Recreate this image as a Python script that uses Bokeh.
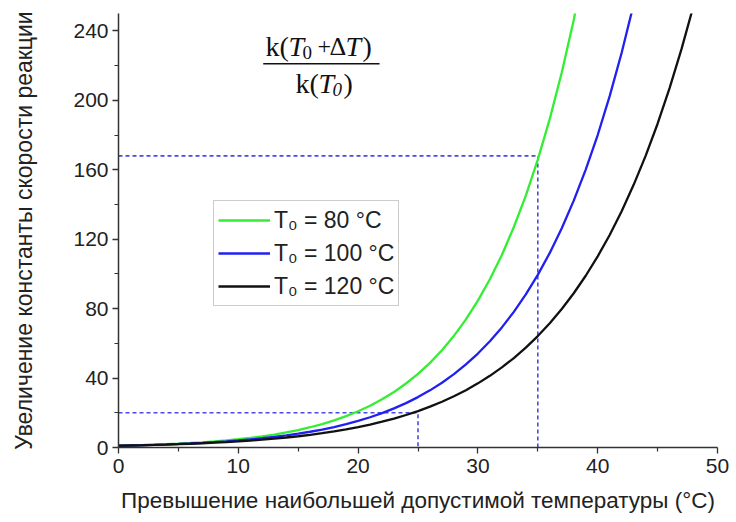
from bokeh.plotting import figure
from bokeh.models import Range1d, Legend, LegendItem, Label, FixedTicker
from bokeh.embed import file_html
from bokeh.resources import INLINE

# Excess over the maximum permissible temperature, deg C (T0 = 80 C)
dt_green = list(range(0, 40))
k_green = [1.0, 1.17, 1.38, 1.61, 1.89, 2.21, 2.58, 3.01, 3.51, 4.09, 4.76, 5.54,
           6.44, 7.48, 8.68, 10.07, 11.67, 13.51, 15.63, 18.06, 20.86, 24.08, 27.77,
           32.0, 36.86, 42.39, 48.77, 56.02, 64.32, 73.79, 84.6, 96.94, 110.9, 127.0,
           145.1, 165.8, 189.3, 216.0, 246.3, 280.6]

# T0 = 100 C
dt_blue = list(range(0, 44))
k_blue = [1.0, 1.15, 1.33, 1.53, 1.77, 2.03, 2.34, 2.69, 3.08, 3.54, 4.06, 4.65,
          5.32, 6.09, 6.96, 7.95, 9.07, 10.35, 11.8, 13.45, 15.31, 17.42, 19.81,
          22.52, 25.57, 29.03, 32.92, 37.32, 42.27, 47.85, 54.13, 61.2, 69.17, 78.11,
          88.17, 99.46, 112.1, 126.3, 142.2, 160.1, 180.0, 202.4, 227.4, 255.3]

# T0 = 120 C
dt_black = list(range(0, 50))
k_black = [1.0, 1.14, 1.29, 1.47, 1.67, 1.9, 2.15, 2.44, 2.76, 3.13, 3.54, 4.0,
           4.52, 5.1, 5.76, 6.49, 7.32, 8.25, 9.29, 10.45, 11.76, 13.22, 14.85, 16.67,
           18.71, 20.99, 23.52, 26.36, 29.51, 33.03, 36.94, 41.29, 46.15, 51.53, 57.52,
           64.18, 71.55, 79.77, 88.86, 98.93, 110.1, 122.4, 136.1, 151.3, 168.0, 186.5,
           207.0, 229.6, 254.5, 282.1]

series_labels = ["T\u2080 = 80 \u00b0C", "T\u2080 = 100 \u00b0C", "T\u2080 = 120 \u00b0C"]

# guide lines (dashed)
guide1_x = [0, 25, 25]
guide1_y = [20, 20, 0]
guide2_x = [0, 35, 35]
guide2_y = [168, 168, 0]

x_ticks = [0, 10, 20, 30, 40, 50]
y_ticks = [0, 40, 80, 120, 160, 200, 240]

FONT = "Liberation Sans"
SERIF = "Liberation Serif"

p = figure(width=730, height=520, output_backend="svg", toolbar_location=None,
           x_range=Range1d(0, 50), y_range=Range1d(0, 250),
           min_border_left=118, min_border_right=13, min_border_top=13, min_border_bottom=73)
p.outline_line_color = None
p.xgrid.visible = False
p.ygrid.visible = False

gl_color = "#4a4ae6"
p.line(guide1_x, guide1_y, line_color=gl_color, line_width=1.6, line_dash="4 3")
p.line(guide2_x, guide2_y, line_color=gl_color, line_width=1.6, line_dash="4 3")

r1 = p.line(dt_green, k_green, line_color="#33ee33", line_width=2.3)
r2 = p.line(dt_blue, k_blue, line_color="#2020f0", line_width=2.3)
r3 = p.line(dt_black, k_black, line_color="#111111", line_width=2.3)

for ax in (p.xaxis[0], p.yaxis[0]):
    ax.axis_line_color = "#333333"
    ax.axis_line_width = 1.5
    ax.major_tick_line_color = "#333333"
    ax.minor_tick_line_color = "#333333"
    ax.major_tick_line_width = 1.3
    ax.minor_tick_line_width = 1.2
    ax.major_tick_out = 6
    ax.major_tick_in = 0
    ax.minor_tick_out = 4
    ax.minor_tick_in = 0
    ax.major_label_text_font = FONT
    ax.major_label_text_font_size = "21px"
    ax.major_label_text_color = "#222222"
    ax.axis_label_text_font = FONT
    ax.axis_label_text_font_style = "normal"
    ax.axis_label_text_color = "#222222"

p.xaxis.axis_label_text_font_size = "22.5px"
p.yaxis.axis_label_text_font_size = "23px"
p.xaxis.ticker = FixedTicker(ticks=x_ticks, minor_ticks=[5, 15, 25, 35, 45])
p.yaxis.ticker = FixedTicker(ticks=y_ticks, minor_ticks=[20, 60, 100, 140, 180, 220])
p.xaxis.axis_label = "Превышение наибольшей допустимой температуры (\u00b0C)"
p.yaxis.axis_label = "Увеличение константы скорости реакции"
p.xaxis.major_label_standoff = 5
p.xaxis.axis_label_standoff = 12
p.yaxis.major_label_standoff = 4
p.yaxis.axis_label_standoff = 33

legend = Legend(items=[LegendItem(label=series_labels[0], renderers=[r1]),
                       LegendItem(label=series_labels[1], renderers=[r2]),
                       LegendItem(label=series_labels[2], renderers=[r3])],
                location=(95, 141))
legend.label_text_font = FONT
legend.label_text_font_size = "23px"
legend.label_text_color = "#222222"
legend.glyph_width = 52
legend.glyph_height = 30
legend.label_height = 30
legend.spacing = 3
legend.padding = 4
legend.margin = 0
legend.label_standoff = 4
legend.border_line_color = "#999999"
legend.border_line_width = 1.2
legend.background_fill_alpha = 1.0
p.add_layout(legend, "center")

# formula k(T0 + dT) / k(T0)
num_x, num_y = 12.27, 230.8
den_x, den_y = 14.77, 209.5
sub_dy = 3.5
pieces = [
    (num_x, num_y, 0, "k(", "normal", "28px"),
    (num_x, num_y, 23, "T", "italic", "28px"),
    (num_x, num_y - sub_dy, 37, "0", "normal", "19px"),
    (num_x, num_y, 52, "+", "normal", "24px"),
    (num_x, num_y, 64, "\u0394", "normal", "26px"),
    (num_x, num_y, 80, "T", "italic", "28px"),
    (num_x, num_y, 97, ")", "normal", "28px"),
    (den_x, den_y, 0, "k(", "normal", "28px"),
    (den_x, den_y, 23, "T", "italic", "28px"),
    (den_x, den_y - sub_dy, 37, "0", "italic", "19px"),
    (den_x, den_y, 48, ")", "normal", "28px"),
]
for x, y, off, t, style, size in pieces:
    p.add_layout(Label(x=x, y=y, x_offset=off, text=t, text_font=SERIF,
                       text_font_style=style, text_font_size=size,
                       text_color="#111111", text_baseline="alphabetic"))
p.segment(x0=[12.08], y0=[221.0], x1=[21.79], y1=[221.0], line_color="#111111", line_width=1.5)

open("out.html", "w").write(file_html(p, INLINE))
